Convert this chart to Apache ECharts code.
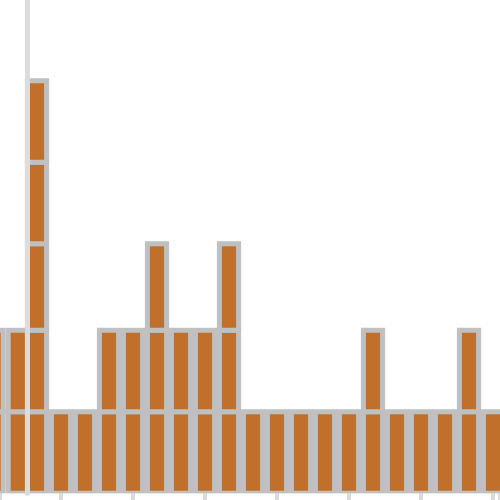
<!DOCTYPE html>
<html>
<head>
<meta charset="utf-8">
<script src="https://cdn.jsdelivr.net/npm/echarts@6/dist/echarts.min.js"></script>
<style>
html,body{margin:0;padding:0;background:#fff;}
#chart{width:500px;height:500px;}
</style>
</head>
<body>
<div id="chart"></div>
<script>
// Bar positions on the x value axis
const xPositions = [0.19, 1.2, 2, 3, 4, 5, 6, 7, 8, 9, 10, 11, 12, 13, 14, 15, 16, 17, 18, 19, 20, 21];
// Number of stacked blocks in each bar
const blockCounts = [2, 2, 5, 1, 1, 2, 2, 3, 2, 2, 3, 1, 1, 1, 1, 1, 2, 1, 1, 1, 2, 1];
// Value of each stacked layer (bottom to top)
const layerValues = [1, 1, 1.06, 1, 1];
// Visible axis ranges
const xRange = [0.4583, 21.2917];
const yRange = [0, 6.05];

// Build stacked blocks [x, base, top] from the arrays above
const blocks = [];
xPositions.forEach(function (x, i) {
  let base = 0;
  for (let li = 0; li < blockCounts[i]; li++) {
    const top = base + layerValues[li];
    blocks.push([x, base, top]);
    base = top;
  }
});

const BAR_FRACTION = 0.8;

const chart = echarts.init(document.getElementById('chart'), null, { renderer: 'canvas' });
chart.setOption({
  animation: false,
  backgroundColor: '#ffffff',
  grid: { left: 0, right: 0, top: 0, bottom: 6.8, containLabel: false },
  xAxis: {
    type: 'value',
    min: xRange[0], max: xRange[1], splitNumber: 6,
    axisLine: { show: false },
    axisTick: { show: true, length: 10, lineStyle: { color: '#DCDCDC', width: 4 } },
    axisLabel: { show: false },
    splitLine: { show: false }
  },
  yAxis: {
    type: 'value',
    min: yRange[0], max: yRange[1],
    offset: -27,
    z: 5,
    axisLine: { show: true, lineStyle: { color: '#DCDCDC', width: 5 } },
    axisTick: { show: false },
    axisLabel: { show: false },
    splitLine: { show: false }
  },
  series: [{
    type: 'custom',
    clip: true,
    encode: { x: 0, y: [1, 2] },
    data: blocks,
    renderItem: function (params, api) {
      const x = api.value(0);
      const p0 = api.coord([x, api.value(1)]);
      const p1 = api.coord([x, api.value(2)]);
      const w = api.size([BAR_FRACTION, 0])[0];
      return {
        type: 'rect',
        shape: { x: p0[0] - w / 2, y: p1[1], width: w, height: p0[1] - p1[1] },
        style: { fill: '#C1702B', stroke: '#C0C0C0', lineWidth: 5 }
      };
    }
  }]
});
</script>
</body>
</html>
